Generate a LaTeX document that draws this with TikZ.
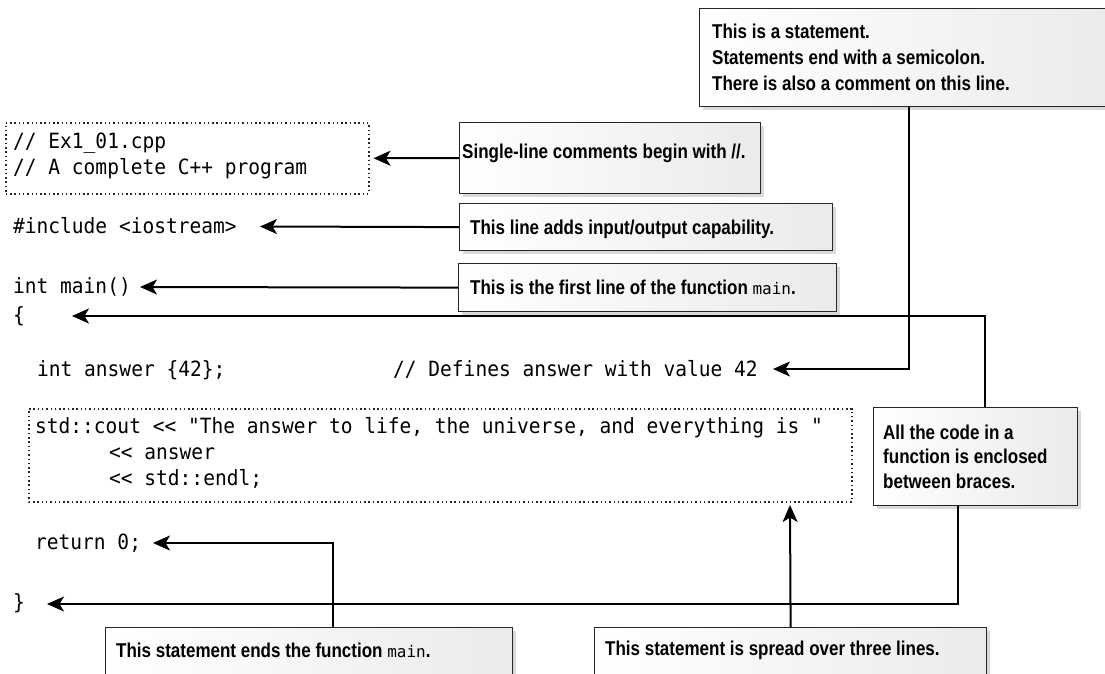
\documentclass[tikz,border=0pt]{standalone}
\usepackage{fontspec}
\usetikzlibrary{arrows.meta,shadows}
\newfontfamily\codefont[Ligatures=TeXOff,FakeStretch=0.93]{DejaVu Sans Mono}
\newfontfamily\lblmonofont[Ligatures=TeXOff]{DejaVu Sans Mono}
\newfontfamily\lblfont[FakeStretch=0.85]{Liberation Sans}
\newcommand\lblmono[1]{{\lblmonofont\mdseries\fontsize{16}{20}\selectfont #1}}
\begin{document}
\begin{tikzpicture}[x=1pt,y=-1pt,
  callbox/.style={draw=black!85, line width=1.2pt, left color=white, right color=black!8,
    drop shadow={shadow xshift=3pt, shadow yshift=-3pt, opacity=0.15, fill=black},
    inner sep=0pt, anchor=north west},
  lbl/.style={font=\lblfont\bfseries\fontsize{20}{24}\selectfont, inner sep=0pt, anchor=base west},
  code/.style={font=\codefont\fontsize{21}{25}\selectfont, inner sep=0pt, anchor=base west},
  dotbox/.style={draw=black!85, line width=1.5pt, dash pattern=on 1.5pt off 2.8pt, inner sep=0pt, anchor=north west},
  arr/.style={line width=2pt, -{Stealth[length=17pt,width=15pt,inset=4.5pt]}}
]
\useasboundingbox (0,0) rectangle (1105,673);
\fill[white] (0,0) rectangle (1105,673);

% code
\node[dotbox, minimum width=363pt, minimum height=71pt] (cmt) at (5,122) {};
\node[code] (c1) at (13,148) {// Ex1\_01.cpp};
\node[code] (c2) at (13,174) {// A complete C++ program};
\node[code] (c3) at (13,233) {\#include <iostream>};
\node[code] (c4) at (13,293) {int main()};
\node[code] (c5) at (13,322) {\{};
\node[code] (c6) at (37,376) {int answer \{42\};};
\node[code] (c7) at (393,376) {// Defines answer with value 42};
\node[dotbox, minimum width=823pt, minimum height=93pt] (cout) at (28,408) {};
\node[code] (c8) at (35,433) {std::cout << "The answer to life, the universe, and everything is "};
\node[code] (c9) at (109,459) {<< answer};
\node[code] (c10) at (109,485) {<< std::endl;};
\node[code] (c11) at (35,549) {return 0;};
\node[code] (c12) at (13,609) {\}};

% callout boxes
\node[callbox, minimum width=416pt, minimum height=98pt] (b0) at (699,8) {};
\node[lbl] (t0a) at (712,38) {This is a statement.};
\node[lbl] (t0b) at (712,64) {Statements end with a semicolon.};
\node[lbl] (t0c) at (712,90) {There is also a comment on this line.};

\node[callbox, minimum width=301pt, minimum height=71pt] (b1) at (459,122) {};
\node[lbl] (t1) at (462,158) {Single-line comments begin with //.};

\node[callbox, minimum width=373pt, minimum height=47pt] (b2) at (459,203) {};
\node[lbl] (t2) at (470,234) {This line adds input/output capability.};

\node[callbox, minimum width=378pt, minimum height=48pt] (b3) at (458,263) {};
\node[lbl] (t3) at (470,294) {This is the first line of the function \lblmono{main}.};

\node[callbox, minimum width=204pt, minimum height=98pt] (b5) at (873,407) {};
\node[lbl] (t5a) at (883,439) {All the code in a};
\node[lbl] (t5b) at (883,463) {function is enclosed};
\node[lbl] (t5c) at (883,488) {between braces.};

\node[callbox, minimum width=407pt, minimum height=80pt] (b6) at (105,627) {};
\node[lbl] (t6) at (116,657) {This statement ends the function \lblmono{main}.};

\node[callbox, minimum width=392pt, minimum height=80pt] (b7) at (594,627) {};
\node[lbl] (t7) at (605,655) {This statement is spread over three lines.};

% arrow tips
\coordinate (tInc) at (260,226.5);
\coordinate (tMain) at (140,287);
\coordinate (tBrace) at (72,316);
\coordinate (tAns) at (773,369);
\coordinate (tSpread) at (790,505);
\coordinate (tRet) at (153,543);
\coordinate (tClose) at (47,604);

% connectors
\draw[arr] (b1.west) -- ([xshift=4pt]cmt.east);
\draw[arr] (b2.west) -- (tInc);
\draw[arr] (b3.west) -- (tMain);
\draw[arr] ([xshift=9pt]b5.north) |- (tBrace);
\draw[arr] ([xshift=1pt]b0.south) |- (tAns);
\draw[arr] (b7.north) -- (tSpread);
\draw[arr] ([xshift=23.5pt]b6.north) |- (tRet);
\draw[arr] ([xshift=-18pt]b5.south) |- (tClose);
\end{tikzpicture}
\end{document}
